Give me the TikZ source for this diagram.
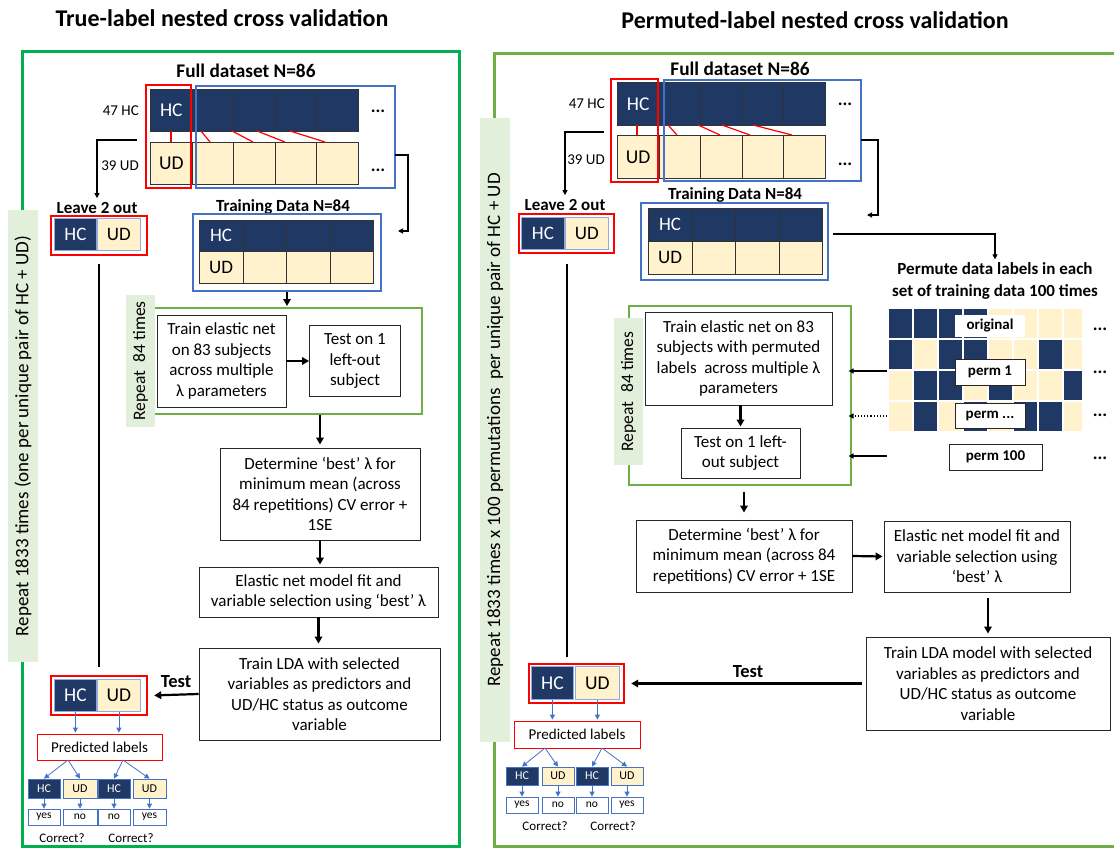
\documentclass[tikz,border=0pt]{standalone}
\usepackage{fontspec}
\setmainfont{Carlito}
\usetikzlibrary{arrows.meta,calc}
\definecolor{navy}{HTML}{1F3864}
\definecolor{cream}{HTML}{FFF2CC}
\definecolor{bblue}{HTML}{4472C4}
\definecolor{lgreen}{HTML}{E2EFDA}
\definecolor{gL}{HTML}{00B050}
\definecolor{gR}{HTML}{70AD47}
\tikzset{
 ttl/.style={font=\fontsize{24}{26}\selectfont\bfseries, inner sep=0},
 hdr/.style={font=\fontsize{17}{19}\selectfont\bfseries, inner sep=0},
 fhdr/.style={font=\fontsize{19.3}{21}\selectfont\bfseries, inner sep=0},
 thdr/.style={font=\fontsize{18.5}{20}\selectfont\bfseries, inner sep=0},
 box/.style={draw=black!85, line width=0.9, fill=white, align=center, inner sep=0, font=\fontsize{17}{20.5}\selectfont},
 gcell/.style={draw=black!80, line width=0.7, inner sep=0, anchor=north west},
 hcc/.style={gcell, fill=navy, text=white},
 udc/.style={gcell, fill=cream, text=black},
 bigtxt/.style={font=\fontsize{19.5}{20}\selectfont},
 midtxt/.style={font=\fontsize{19}{20}\selectfont},
 redbox/.style={draw=red, line width=2.2, inner sep=0, anchor=north west},
 bluebox/.style={draw=bblue, line width=2, inner sep=0, anchor=north west},
 lab/.style={font=\fontsize{15}{16}\selectfont, inner sep=0},
 clab/.style={font=\fontsize{13}{15}\selectfont, inner sep=0},
 dots/.style={font=\fontsize{18}{18}\selectfont\bfseries, inner sep=0},
 biglbl/.style={fill=lgreen, rotate=90, minimum height=30, inner sep=0, font=\fontsize{19}{20}\selectfont},
 replbl/.style={fill=lgreen, rotate=90, minimum height=29, inner sep=0, font=\fontsize{17.5}{19}\selectfont},
 repbox/.style={draw=gR, line width=1.5, inner sep=0, anchor=north west},
 barr/.style={line width=2.2, -{Triangle[length=7,width=7.5]}},
 tarr/.style={line width=1.1, -{Triangle[length=5,width=5]}},
 blarr/.style={draw=bblue, line width=0.8, -{Triangle[length=5,width=5]}},
 vline/.style={line width=2},
 sm/.style={draw=bblue, line width=0.8, inner sep=0, minimum width=32, minimum height=19, font=\fontsize{12}{13}\selectfont},
 smhc/.style={sm, fill=navy, text=white},
 smud/.style={sm, fill=cream},
 yn/.style={sm, fill=white, minimum height=16, font=\fontsize{11.5}{12}\selectfont},
 pred/.style={draw=red, line width=0.8, fill=white, inner sep=0, font=\fontsize{15}{16}\selectfont},
 lcell/.style={gcell, draw=bblue!60, line width=0.8},
 plbl/.style={font=\fontsize{15}{16}\selectfont\bfseries, inner sep=0},
}
\begin{document}
\begin{tikzpicture}[x=1pt,y=-1pt]
\useasboundingbox (0,0) rectangle (1114,848);
\fill[white] (0,0) rectangle (1114,848);

% titles
\node[ttl] (Ltitle) at (222,18) {True-label nested cross validation};
\node[ttl] (Rtitle) at (815,20) {Permuted-label nested cross validation};

% frames
\draw[gL, line width=3] (22,52) rectangle (459,846);
\draw[gR, line width=3] (494,54) rectangle (1130,846);

% big side labels
\node[biglbl, minimum width=452] (Lbig) at (23,436) {Repeat 1833 times (one per unique pair of HC + UD)};
\node[biglbl, minimum width=624] (Rbig) at (495,430) {Repeat 1833 times x 100 permutations\ \ per unique pair of HC + UD};

%================ LEFT =================
\node[fhdr] (Lfull) at (246,71) {Full dataset N=86};
\node[lab, anchor=east] (L47) at (139,111) {47 HC};
\node[lab, anchor=east] (L39) at (139,166) {39 UD};
\node[hcc, minimum width=42, minimum height=42, bigtxt] (LH0) at (150,89) {HC};
\node[udc, minimum width=42, minimum height=42, bigtxt] (LU0) at (150,142) {UD};
\foreach \i in {1,...,4}{
 \node[hcc, minimum width=42, minimum height=42] (LH\i) at ({150+41.6*\i},89) {};
 \node[udc, minimum width=42, minimum height=42] (LU\i) at ({150+41.6*\i},142) {};
}
\node[dots] (Ld1) at (378,111) {...};
\node[dots] (Ld2) at (378,170) {...};
\draw[red, line width=1.2] (171,131) -- (171,142);
\draw[red, line width=1.2] (201,131) -- (210,142);
\draw[red, line width=1.2] (232,131) -- (253,142);
\draw[red, line width=1.2] (257,131) -- (285,142);
\draw[red, line width=1.2] (290,131) -- (325,142);
\node[redbox, minimum width=45, minimum height=103] (Lred) at (145,84) {};
\node[bluebox, minimum width=199, minimum height=102] (Lblue) at (195,85) {};

% leave 2 out
\node[hdr] (Lleave) at (97,208) {Leave 2 out};
\node[redbox, minimum width=96, minimum height=39] (Lbox) at (50,215) {};
\node[lcell, fill=navy, text=white, minimum width=42, minimum height=32, midtxt] (LlH) at (54,218) {HC};
\node[lcell, fill=cream, minimum width=43, minimum height=32, midtxt] (LlU) at (97,218) {UD};

\coordinate (Lfa) at (137,140);
\draw[tarr, shorten >=4] (Lfa) -| (Lleave.north);

% training data
\node[hdr] (Ltrlbl) at (283,207) {Training Data N=84};
\node[bluebox, minimum width=188, minimum height=77] (Ltrain) at (192,213) {};
\node[hcc, minimum width=43.5, minimum height=31, midtxt] (LtH0) at (199,220) {HC};
\node[udc, minimum width=43.5, minimum height=32, midtxt] (LtU0) at (199,251) {UD};
\foreach \i in {1,2,3}{
 \node[hcc, minimum width=43.5, minimum height=31] (LtH\i) at ({199+43.5*\i},220) {};
 \node[udc, minimum width=43.5, minimum height=32] (LtU\i) at ({199+43.5*\i},251) {};
}
\coordinate (Lfb) at (395,155);
\coordinate (Lfc) at (408,231);
\coordinate (Lfd) at (398,231);
\draw[tarr] (Lfb) -| (Lfc) -- (Lfd);

% repeat box
\node[repbox, minimum width=268, minimum height=106] (Lrep) at (153,307) {};
\node[replbl, minimum width=132] (Lreplbl) at (140.5,361) {Repeat\enspace 84 times};
\node[box, minimum width=129, minimum height=92] (Ltrn) at (221.5,361) {Train elastic net\\on 83 subjects\\across multiple\\λ parameters};
\node[box, minimum width=91, minimum height=71] (Ltst) at (355,361) {Test on 1\\left-out\\subject};
\draw[barr] (Ltrn) -- (Ltst);
\draw[barr, shorten >=1] (Ltrain.south) -- (Ltrain.south |- Lrep.north);

\node[box, minimum width=200, minimum height=92] (Ldet) at (320,494) {Determine ‘best’ λ for\\minimum mean (across\\84 repetitions) CV error +\\1SE};
\node[box, minimum width=239, minimum height=50] (Lela) at (318.5,592) {Elastic net model fit and\\variable selection using ‘best’ λ};
\node[box, minimum width=241, minimum height=92] (Llda) at (319.5,694) {Train LDA with selected\\variables as predictors and\\UD/HC status as outcome\\variable};
\draw[barr, shorten >=3] (Ldet.north |- Lrep.south) -- (Ldet.north);
\draw[barr, shorten >=2] (Ldet.south) -- (Ldet.south |- Lela.north);
\draw[barr, shorten >=4] (Lela.south) -- (Lela.south |- Llda.north);

% bottom left
\node[redbox, minimum width=96, minimum height=39] (Lbot) at (50,675) {};
\node[lcell, fill=navy, text=white, minimum width=42, minimum height=32, bigtxt] (LbH) at (54,679) {HC};
\node[lcell, fill=cream, minimum width=43, minimum height=32, bigtxt] (LbU) at (97,679) {UD};
\draw[barr, shorten >=6] (Llda.west) -- (Lbot.east);
\node[thdr] (Ltest) at (176,682) {Test};
\draw[vline, shorten <=8, shorten >=8] (Lbox.south) -- (Lbot.north);

\node[pred, minimum width=125, minimum height=26] (Lpred) at (99.5,747) {Predicted labels};
\draw[blarr, shorten >=1] (LbH.south) -- (LbH.south |- Lpred.north);
\draw[blarr, shorten >=1] (LbU.south) -- (LbU.south |- Lpred.north);
\node[smhc] (Ls1) at (44,788.5) {HC};
\node[smud, minimum width=34] (Ls2) at (80,788.5) {UD};
\node[smhc] (Ls3) at (114,788.5) {HC};
\node[smud, minimum width=33] (Ls4) at (149.5,788.5) {UD};
\coordinate (Lpa) at (68,760);
\coordinate (Lpb) at (123,760);
\draw[blarr] (Lpa) -- (Ls1.north);
\draw[blarr] (Lpa) -- (Ls2.north);
\draw[blarr] (Lpb) -- (Ls3.north);
\draw[blarr] (Lpb) -- (Ls4.north);
\node[yn] (Ly1) at (44,817) {yes};
\node[yn, minimum width=34] (Ly2) at (80,817) {no};
\node[yn] (Ly3) at (114,817) {no};
\node[yn, minimum width=33] (Ly4) at (149.5,817) {yes};
\foreach \k in {1,...,4} \draw[blarr] (Ls\k.south) -- (Ly\k.north);
\node[clab] (Lc1) at (62,838) {Correct?};
\node[clab] (Lc2) at (131,838) {Correct?};

%================ RIGHT =================
\node[fhdr] (Rfull) at (740,69) {Full dataset N=86};
\node[lab, anchor=east] (R47) at (605,104) {47 HC};
\node[lab, anchor=east] (R39) at (605,160) {39 UD};
\node[hcc, minimum width=41.6, minimum height=43, bigtxt] (RH0) at (617,82) {HC};
\node[udc, minimum width=41.6, minimum height=43, bigtxt] (RU0) at (617,135) {UD};
\foreach \i in {1,...,4}{
 \node[hcc, minimum width=41.6, minimum height=43] (RH\i) at ({617+41.6*\i},82) {};
 \node[udc, minimum width=41.6, minimum height=43] (RU\i) at ({617+41.6*\i},135) {};
}
\node[dots] (Rd1) at (845,104) {...};
\node[dots] (Rd2) at (845,164) {...};
\draw[red, line width=1.2] (637,125) -- (637,135);
\draw[red, line width=1.2] (668,125) -- (677,135);
\draw[red, line width=1.2] (698,125) -- (720,135);
\draw[red, line width=1.2] (722,125) -- (750,135);
\draw[red, line width=1.2] (753,125) -- (792,135);
\node[redbox, minimum width=47, minimum height=103] (Rred) at (610,78) {};
\node[bluebox, minimum width=197, minimum height=101] (Rblue) at (663,79) {};

\node[hdr] (Rleave) at (565,205) {Leave 2 out};
\node[redbox, minimum width=95, minimum height=39] (Rbox) at (518,213) {};
\node[lcell, fill=navy, text=white, minimum width=43, minimum height=32, midtxt] (RlH) at (521,217) {HC};
\node[lcell, fill=cream, minimum width=43, minimum height=32, midtxt] (RlU) at (565,217) {UD};
\coordinate (Rfa) at (604,132);
\draw[tarr, shorten >=4] (Rfa) -| (Rleave.north);

\node[hdr] (Rtrlbl) at (735,195) {Training Data N=84};
\node[bluebox, minimum width=187, minimum height=77] (Rtrain) at (640,202) {};
\node[hcc, minimum width=43.5, minimum height=33, midtxt] (RtH0) at (648,208) {HC};
\node[udc, minimum width=43.5, minimum height=33, midtxt] (RtU0) at (648,241) {UD};
\foreach \i in {1,2,3}{
 \node[hcc, minimum width=43.5, minimum height=33] (RtH\i) at ({648+43.5*\i},208) {};
 \node[udc, minimum width=43.5, minimum height=33] (RtU\i) at ({648+43.5*\i},241) {};
}
\coordinate (Rfb) at (861,140);
\coordinate (Rfc) at (878,215);
\coordinate (Rfd) at (867,215);
\draw[tarr] (Rfb) -| (Rfc) -- (Rfd);

% permutation
\node[hdr, align=center, font=\fontsize{17}{22}\selectfont\bfseries] (Rperm) at (995,281) {Permute data labels in each\\set of training data 100 times};
\coordinate (Rto) at (833,234);
\draw[tarr, shorten >=3] (Rto) -| (Rperm.north);

\foreach \r in {0,...,3}{
 \foreach \c in {0,...,7}{
  \filldraw[cream, draw=white, line width=1.4] ({888+25*\c},{308+31*\r}) rectangle ++({\c==7 ? 20 : 25},31);
 }
}
\foreach \c/\r in {0/0,1/0,2/0,3/0, 0/1,2/1,3/1,6/1, 1/2,2/2,4/2,7/2, 1/3,3/3,5/3,6/3}{
  \filldraw[navy, draw=white, line width=1.4] ({888+25*\c},{308+31*\r}) rectangle ++({\c==7 ? 20 : 25},31);
}
\node[plbl, fill=white, minimum width=70, minimum height=22] (Porig) at (990,326) {original};
\node[plbl, fill=white, draw=black!85, line width=0.9, minimum width=70, minimum height=26] (Pp1) at (990,372) {perm 1};
\node[plbl, fill=white, draw=black!85, line width=0.9, minimum width=70, minimum height=25] (Pp2) at (990,415.5) {perm ...};
\node[plbl, fill=white, draw=black!85, line width=0.9, minimum width=93, minimum height=26] (Pp3) at (995.5,457) {perm 100};
\node[dots] (Pd1) at (1100,329) {...};
\node[dots] (Pd2) at (1100,372) {...};
\node[dots] (Pd3) at (1100,415) {...};
\node[dots] (Pd4) at (1100,458) {...};

% right repeat
\node[repbox, minimum width=222, minimum height=179] (Rrep) at (628,305) {};
\node[replbl, minimum width=147] (Rreplbl) at (628.5,391.5) {Repeat\enspace 84 times};
\node[box, minimum width=187, minimum height=93] (Rtrn) at (738.5,358.5) {Train elastic net on 83\\subjects with permuted\\labels\ \ across multiple λ\\parameters};
\node[box, minimum width=119, minimum height=50] (Rtst) at (740.5,453) {Test on 1 left-\\out subject};
\draw[barr, shorten >=1] (Rtst.north |- Rtrn.south) -- (Rtst.north);

\coordinate (Pa1) at (887,371);
\coordinate (Pa2) at (887,416);
\coordinate (Pa3) at (887,456);
\draw[tarr, shorten >=-3] (Pa1) -- (Pa1 -| Rrep.east);
\draw[tarr, dotted, shorten >=-3] (Pa2) -- (Pa2 -| Rrep.east);
\draw[tarr, shorten >=-3] (Pa3) -- (Pa3 -| Rrep.east);

\node[box, minimum width=216, minimum height=72] (Rdet) at (744,556) {Determine ‘best’ λ for\\minimum mean (across 84\\repetitions) CV error + 1SE};
\node[box, minimum width=186, minimum height=71] (Rela) at (977,556.5) {Elastic net model fit and\\variable selection using\\‘best’ λ};
\node[box, minimum width=244, minimum height=93] (Rlda) at (988,683.5) {Train LDA model with selected\\variables as predictors and\\UD/HC status as outcome\\variable};
\draw[barr, shorten <=6, shorten >=7] (Rdet.north |- Rrep.south) -- (Rdet.north);
\draw[barr, shorten >=1] (Rdet.east) -- (Rela.west);
\draw[barr, shorten <=6, shorten >=3] (Rlda.north |- Rela.south) -- (Rlda.north);

% bottom right
\node[redbox, minimum width=95, minimum height=39] (Rbot) at (528,663) {};
\node[lcell, fill=navy, text=white, minimum width=42, minimum height=33, bigtxt] (RbH) at (531,666) {HC};
\node[lcell, fill=cream, minimum width=44, minimum height=33, bigtxt] (RbU) at (575,666) {UD};
\draw[barr, shorten <=4, shorten >=6] (Rlda.west) -- (Rlda.west -| Rbot.east);
\node[thdr] (Rtest) at (748,672) {Test};
\draw[vline, shorten <=10, shorten >=6] (Rbox.south) -- (Rbox.south |- Rbot.north);

\node[pred, minimum width=126, minimum height=27] (Rpred) at (577,734.5) {Predicted labels};
\draw[blarr, shorten >=1] (RbH.south) -- (RbH.south |- Rpred.north);
\draw[blarr, shorten >=1] (RbU.south) -- (RbU.south |- Rpred.north);
\node[smhc, minimum height=18] (Rs1) at (522,776) {HC};
\node[smud, minimum height=18] (Rs2) at (558,776) {UD};
\node[smhc, minimum height=18] (Rs3) at (592,776) {HC};
\node[smud, minimum height=18] (Rs4) at (627,776) {UD};
\coordinate (Rpa) at (545,748);
\coordinate (Rpb) at (602,748);
\draw[blarr] (Rpa) -- (Rs1.north);
\draw[blarr] (Rpa) -- (Rs2.north);
\draw[blarr] (Rpb) -- (Rs3.north);
\draw[blarr] (Rpb) -- (Rs4.north);
\node[yn] (Ry1) at (522,805) {yes};
\node[yn] (Ry2) at (558,805) {no};
\node[yn] (Ry3) at (592,805) {no};
\node[yn] (Ry4) at (627,805) {yes};
\foreach \k in {1,...,4} \draw[blarr] (Rs\k.south) -- (Ry\k.north);
\node[clab] (Rc1) at (545,826) {Correct?};
\node[clab] (Rc2) at (613,826) {Correct?};
\end{tikzpicture}
\end{document}
